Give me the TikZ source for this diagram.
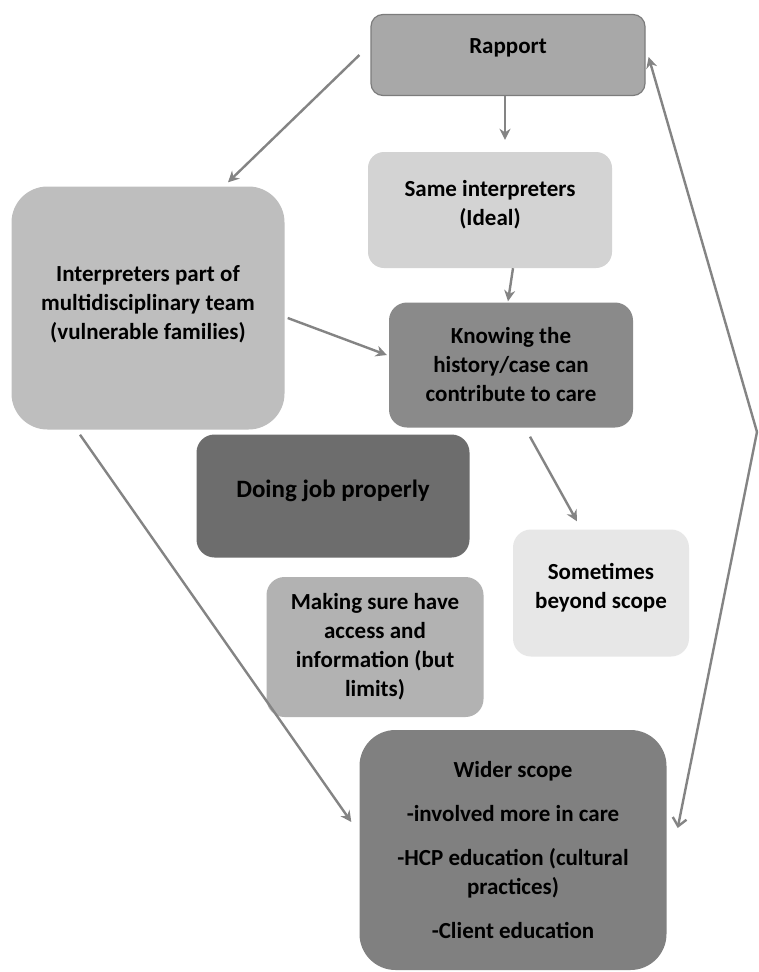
\documentclass[tikz,border=0pt]{standalone}
\usepackage{fontspec}
\setmainfont{Carlito}
\usetikzlibrary{arrows.meta}

\definecolor{rapfill}{HTML}{A8A8A8}
\definecolor{rapline}{HTML}{7C7C7C}
\definecolor{samefill}{HTML}{D3D3D3}
\definecolor{teamfill}{HTML}{BEBEBE}
\definecolor{knowfill}{HTML}{8A8A8A}
\definecolor{jobfill}{HTML}{6D6D6D}
\definecolor{beyondfill}{HTML}{E7E7E7}
\definecolor{accessfill}{HTML}{B2B2B2}
\definecolor{widerfill}{HTML}{808080}
\definecolor{arrline}{HTML}{848484}

\begin{document}
\begin{tikzpicture}[x=1pt,y=-1pt,
    box/.style={rounded corners=#1,align=center,inner sep=4pt,
        font=\bfseries\fontsize{23}{29}\selectfont},
    arr/.style={draw=arrline,line width=2.4pt,
        -{Stealth[length=11pt,width=11pt]}},
    barb/.style={draw=arrline,line width=2.4pt,
        -{Straight Barb[length=8pt,width=14pt]}}]
    \fill[white] (0,0) rectangle (759,972);
    \useasboundingbox (0,0) rectangle (759,972);

    % boxes
    \node[box=12pt,fill=rapfill,draw=rapline,line width=1.2pt,
        minimum width=274pt,minimum height=81pt,text depth=18pt]
        (rapport) at (508,55) {Rapport};
    \node[box=16pt,fill=samefill,minimum width=244pt,minimum height=116pt]
        (same) at (490,210) {Same interpreters\\(Ideal)\\[-14pt]};
    \node[box=36pt,fill=teamfill,minimum width=273pt,minimum height=243pt]
        (team) at (148,308) {Interpreters part of\\multidisciplinary team\\(vulnerable families)\\[-19pt]};
    \node[box=18pt,fill=knowfill,minimum width=244pt,minimum height=125pt]
        (know) at (511,365) {Knowing the\\history/case can\\contribute to care};
    \node[box=18pt,fill=jobfill,minimum width=273pt,minimum height=123pt,
        font=\bfseries\fontsize{25}{29}\selectfont,text depth=14pt]
        (job) at (333,496) {Doing job properly};
    \node[box=18pt,fill=beyondfill,minimum width=176pt,minimum height=127pt]
        (beyond) at (601,593) {Sometimes\\beyond scope\\[-14pt]};
    \node[box=18pt,fill=accessfill,minimum width=217pt,minimum height=140pt]
        (access) at (375,647) {Making sure have\\access and\\information (but\\limits)};
    \node[box=36pt,fill=widerfill,minimum width=307pt,minimum height=240pt]
        (wider) at (513,850) {Wider scope\\[15pt]-involved more in care\\[15pt]-HCP education (cultural\\practices)\\[15pt]-Client education};

    % connectors
    \coordinate (bend) at (757,432);
    \draw[arr] ([xshift=-11pt]rapport.west) -- ([xshift=80pt,yshift=4pt]team.north);
    \draw[arr] ([xshift=-3pt]rapport.south) -- ([xshift=15pt,yshift=12pt]same.north);
    \draw[arr] ([xshift=23pt]same.south) -- ([xshift=-3pt,yshift=1pt]know.north);
    \draw[arr] ([xshift=3pt,yshift=-10pt]team.east) -- ([xshift=-2pt,yshift=10pt]know.west);
    \draw[arr] ([xshift=19pt,yshift=-9pt]know.south) -- ([xshift=-24pt,yshift=8pt]beyond.north);
    \draw[arr] ([xshift=-68pt,yshift=-5pt]team.south) -- ([xshift=-8pt,yshift=28pt]wider.west);
    \draw[arr] (bend) -- ([xshift=3pt,yshift=-2pt]rapport.east);
    \draw[barb] (bend) -- ([xshift=11pt,yshift=22pt]wider.east);
\end{tikzpicture}
\end{document}
